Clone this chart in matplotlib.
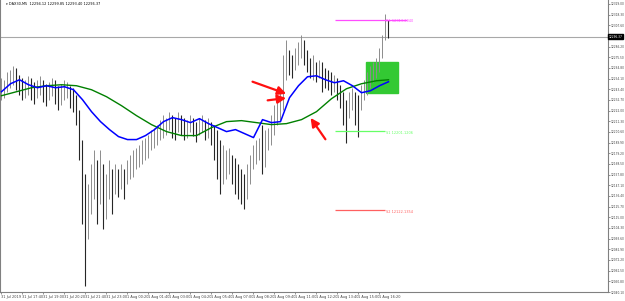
import numpy as np
import matplotlib.pyplot as plt

# DAX30 5 min bars, 31 Jul 2019 -> 1 Aug 2019
bar_high = [12255, 12253, 12261, 12263, 12267, 12265, 12258, 12255, 12253, 12257,
            12255, 12251, 12253, 12257, 12253, 12249, 12251, 12255, 12253, 12247,
            12249, 12253, 12251, 12247, 12245, 12238, 12223, 12193, 12158, 12148,
            12168, 12183, 12173, 12183, 12168, 12158, 12173, 12163, 12168, 12163,
            12168, 12163, 12173, 12178, 12183, 12185, 12188, 12193, 12195, 12198,
            12203, 12205, 12208, 12213, 12218, 12215, 12221, 12218, 12215, 12221,
            12218, 12215, 12213, 12218, 12215, 12211, 12215, 12218, 12213, 12215,
            12211, 12208, 12203, 12193, 12188, 12183, 12185, 12178, 12175, 12168,
            12163, 12158, 12168, 12178, 12188, 12193, 12195, 12208, 12203, 12205,
            12218, 12228, 12233, 12241, 12278, 12293, 12283, 12278, 12285, 12291,
            12298, 12293, 12283, 12275, 12278, 12271, 12273, 12271, 12265, 12263,
            12261, 12258, 12255, 12248, 12241, 12233, 12241, 12245, 12241, 12238,
            12248, 12253, 12261, 12267, 12271, 12275, 12285, 12298, 12319, 12313]
bar_low = [12233, 12235, 12241, 12245, 12248, 12243, 12238, 12233, 12235, 12238,
           12233, 12229, 12235, 12238, 12231, 12227, 12233, 12237, 12229, 12223,
           12228, 12233, 12235, 12225, 12221, 12208, 12173, 12108, 12046, 12093,
           12118, 12133, 12108, 12128, 12103, 12113, 12133, 12118, 12138, 12135,
           12143, 12133, 12148, 12153, 12155, 12163, 12165, 12168, 12173, 12175,
           12183, 12185, 12188, 12193, 12195, 12198, 12203, 12195, 12193, 12201,
           12198, 12193, 12195, 12201, 12197, 12191, 12198, 12201, 12193, 12195,
           12188, 12173, 12153, 12138, 12148, 12153, 12158, 12148, 12138, 12133,
           12128, 12123, 12133, 12148, 12163, 12168, 12173, 12158, 12165, 12183,
           12188, 12198, 12208, 12213, 12223, 12253, 12258, 12255, 12263, 12268,
           12275, 12268, 12261, 12255, 12253, 12251, 12255, 12241, 12245, 12243,
           12238, 12241, 12233, 12225, 12208, 12190, 12215, 12223, 12208, 12196,
           12223, 12233, 12238, 12245, 12251, 12255, 12261, 12275, 12293, 12295]

# blue moving average (every 3rd bar) and green moving average (every 5th bar)
blue_idx = list(range(0, 130, 3))
blue_ma = [12241, 12249, 12253, 12248, 12245, 12247, 12245, 12246, 12243, 12233,
           12221, 12211, 12203, 12196, 12193, 12193, 12197, 12203, 12211, 12215,
           12213, 12210, 12214, 12209, 12205, 12201, 12203, 12199, 12195, 12213,
           12210, 12211, 12235, 12247, 12256, 12257, 12253, 12250, 12252, 12247,
           12240, 12242, 12247, 12251]
green_idx = list(range(0, 130, 5)) + [129]
green_ma = [12237, 12241, 12245, 12247, 12248, 12247, 12243, 12236, 12227, 12217,
            12208, 12201, 12197, 12197, 12205, 12211, 12212, 12210, 12208, 12209,
            12213, 12221, 12234, 12244, 12249, 12252, 12253]

# pivot levels drawn on the chart
levels = [12313.2040, 12201.1206, 12122.1354]
level_names = ["R1", "S1", "S2"]
level_colors = ["#ff4dff", "#66ff66", "#ff6060"]
level_ends = [135.2, 127.8, 127.8]

last_price = 12296.37
title = "DAX30,M5  12294.12 12299.85 12293.40 12296.37"

time_labels = ["31 Jul 2019", "31 Jul 17:40", "31 Jul 19:00", "31 Jul 20:20",
               "31 Jul 21:40", "31 Jul 23:00", "1 Aug 00:20", "1 Aug 01:40",
               "1 Aug 03:00", "1 Aug 04:20", "1 Aug 05:40", "1 Aug 07:00",
               "1 Aug 08:20", "1 Aug 09:40", "1 Aug 11:00", "1 Aug 12:20",
               "1 Aug 13:40", "1 Aug 15:00", "1 Aug 16:20"]

fs = 2.5
fig = plt.figure(figsize=(6.25, 3.01), dpi=100)
ax = fig.add_axes([0, 9 / 301, 608 / 625, 292 / 301])
ax.set_xlim(-0.5, 202.17)
ax.set_ylim(12041, 12333)

# green box
ax.add_patch(plt.Rectangle((121.5, 12240), 10.7, 31, color="#33c933", zorder=1))

# bars
hi = np.array(bar_high)
lo = np.array(bar_low)
mid = (hi + lo) / 2
x = np.arange(len(hi))
down = np.r_[False, mid[1:] < mid[:-1]]
ax.vlines(x[~down], lo[~down], hi[~down], color="#8c8c8c", lw=0.7, zorder=2)
ax.vlines(x[down], lo[down], hi[down], color="#262626", lw=0.8, zorder=2)

ax.plot(green_idx, green_ma, color="#008000", lw=1.0, zorder=3)
ax.plot(blue_idx, blue_ma, color="#0000ff", lw=1.1, zorder=4)

# current price line
ax.axhline(last_price, color="#a8a8a8", lw=0.8, zorder=0)

for lv, nm, c, end in zip(levels, level_names, level_colors, level_ends):
    ax.hlines(lv, 111.2, end, color=c, lw=0.9, zorder=3)
    ax.text(128.2, lv - 1.5, f"{nm} {lv:.4f}", color=c, fontsize=fs,
            va="center", ha="left", zorder=5)

# hand drawn red arrows
arrows = [((82.8, 12252), (95.8, 12238)),
          ((87.8, 12232), (95.8, 12235)),
          ((108.5, 12191), (102.5, 12217))]
for start, end in arrows:
    ax.annotate("", xy=end, xytext=start,
                arrowprops=dict(arrowstyle="-|>,head_length=0.5,head_width=0.25",
                                color="#ff1010", lw=1.6), zorder=6)

ax.text(6 / 608, 1 - 4 / 292, "\u25be " + title, transform=ax.transAxes,
        fontsize=fs, va="center", ha="left")

# axes style
for s in ["left", "bottom", "right"]:
    ax.spines[s].set_color("#808080")
    ax.spines[s].set_linewidth(0.8)
ax.spines["top"].set_visible(False)

ax.set_xticks(np.arange(0, 7 * len(time_labels), 7))
ax.set_xticklabels(time_labels, ha="left")
ax.tick_params(axis="x", length=1.5, width=0.4, pad=1, labelsize=fs, colors="#404040")

# price scale; the tick under the last-price box is left out
yt = 12329 - 10.7 * np.arange(28)
yt = yt[np.abs(yt - last_price) > 5]
ax.yaxis.tick_right()
ax.set_yticks(yt)
ax.set_yticklabels([f"{v:.2f}" for v in yt])
ax.tick_params(axis="y", length=1.2, width=0.4, pad=0.6, labelsize=2.1, colors="#404040")

ax.text(1.001, last_price, f"{last_price:.2f}", transform=ax.get_yaxis_transform(),
        fontsize=2.1, color="white", va="center", ha="left", clip_on=False,
        bbox=dict(boxstyle="square,pad=0.2", fc="black", ec="black"))

fig.savefig("out.png", dpi=100)
